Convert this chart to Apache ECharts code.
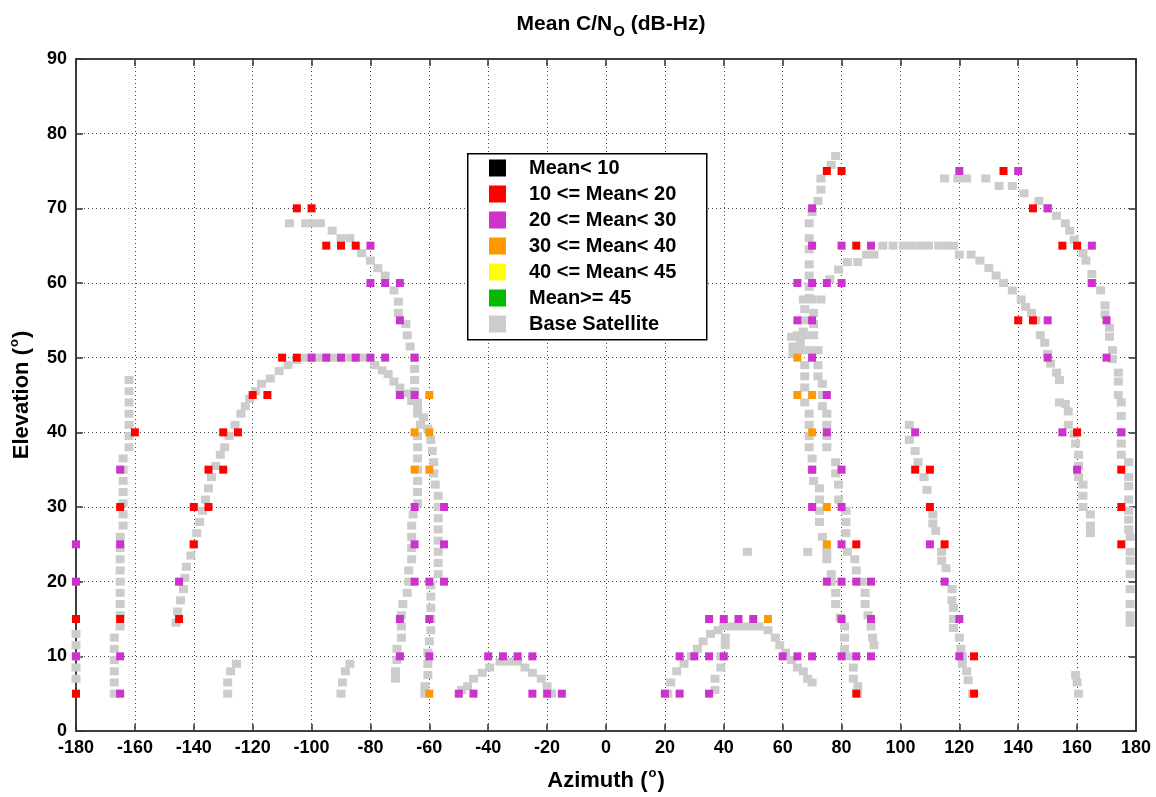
<!DOCTYPE html>
<html>
<head>
<meta charset="utf-8">
<script src="https://cdn.jsdelivr.net/npm/echarts@6/dist/echarts.min.js"></script>
<style>html,body{margin:0;padding:0;background:#fff;}#c{width:1156px;height:797px;}</style>
</head>
<body>
<div id="c"></div>
<script>
// ---- Data (azimuth deg, elevation deg) ----
const xTicks = [-180,-160,-140,-120,-100,-80,-60,-40,-20,0,20,40,60,80,100,120,140,160,180];
const yTicks = [0,10,20,30,40,50,60,70,80,90];
const legendNames = ['Mean< 10','10 <= Mean< 20','20 <= Mean< 30','30 <= Mean< 40','40 <= Mean< 45','Mean>= 45','Base Satellite'];

const meanBelow10 = [];
const mean10to20 = [
 [-180,5],[-180,15],[-165,15],[-165,30],[-160,40],[-145,15],[-140,25],[-140,30],[-135,30],[-135,35],
 [-130,35],[-130,40],[-125,40],[-120,45],[-115,45],[-110,50],[-105,50],[-105,70],[-100,70],[-95,65],
 [-90,65],[-85,65],[75,75],[80,75],[85,65],[85,25],[85,5],[105,35],[110,35],[110,30],[115,25],
 [125,10],[125,5],[135,75],[145,70],[155,65],[160,65],[140,55],[145,55],[160,40],[175,35],[175,30],[175,25]
];
const mean20to30 = [
 [-180,25],[-180,20],[-180,10],[-165,35],[-165,25],[-165,10],[-165,5],[-145,20],
 [-80,65],[-80,60],[-75,60],[-70,60],[-70,55],[-100,50],[-95,50],[-90,50],[-85,50],[-80,50],[-75,50],
 [-65,50],[-70,45],[-65,45],[-65,30],[-55,30],[-65,25],[-55,25],[-65,20],[-60,20],[-55,20],[-70,15],
 [-60,15],[-70,10],[-60,10],[-50,5],[-45,5],
 [-40,10],[-35,10],[-30,10],[-25,10],[-25,5],[-20,5],[-15,5],
 [35,15],[40,15],[45,15],[50,15],[25,10],[30,10],[35,10],[40,10],[60,10],[65,10],[20,5],[25,5],[35,5],
 [70,70],[70,65],[80,65],[90,65],[65,60],[70,60],[75,60],[80,60],[65,55],[70,55],[70,50],[75,45],
 [75,40],[70,35],[80,35],[70,30],[80,30],[80,25],[75,20],[80,20],[85,20],[90,20],[80,15],[90,15],
 [70,10],[80,10],[85,10],[90,10],
 [105,40],[110,25],[115,20],[120,15],[120,10],
 [120,75],[140,75],[150,70],[165,65],[165,60],[150,55],[170,55],[150,50],[170,50],[155,40],[175,40],[160,35]
];
const mean30to40 = [
 [-60,45],[-65,40],[-60,40],[-65,35],[-60,35],[-60,5],[55,15],[65,50],[65,45],[70,45],[70,40],[75,30],[75,25]
];
const mean40to45 = [];
const meanAbove45 = [];

// Base satellite tracks (gray)
const trackA = [[-180,7],[-180,8.5],[-180,10],[-180,11.5],[-180,13]];
const trackB = [[-167,5],[-167,6.5],[-167,8],[-167,9.5],[-167,11],[-167,12.5],[-165,14],[-165,15.5],[-165,17],
 [-165,18.5],[-165,20],[-165,21.5],[-165,23],[-165,24.5],[-165,26],[-164,27.5],[-164,29],[-164,30.5],
 [-164,32],[-164,33.5],[-164,35],[-164,36.5],[-162,38],[-162,39.5],[-162,41],[-162,42.5],[-162,44],[-162,45.5],[-162,47]];
const trackC = [[-146,14.5],[-145.5,16],[-144.5,17.5],[-143.5,19],[-143,20.5],[-142.5,22],[-141,23.5],[-140,25],
 [-139,26.5],[-138,28],[-137,29.5],[-136,31],[-135,32.5],[-134,34],[-132.5,35.5],[-131,37],[-129.5,38],
 [-128,39.5],[-126,41],[-124,42.5],[-122.5,43.5],[-121,44.5],[-119,45.5],[-117,46.5],[-114,47.2],[-111,48.2],
 [-108,49],[-105,49.7],[-102,50],[-99,50],[-96,50],[-93,50],[-90,50],[-87,50],[-84,50],[-81,50],[-78.5,49],
 [-76,48.3],[-74,47.8],[-72,46.8],[-70,46],[-68,45.2],[-66,44.2],[-64,43],[-62,42],[-60.5,40.5],[-59.5,39],
 [-59,37.5],[-58.5,36],[-58.5,34.5],[-58,33],[-57,31.5],[-57,30],[-57,28.5],[-57,27],[-57,25.5],[-57,24],
 [-57,22.5],[-57,21],[-59.5,19.5],[-59.5,18],[-59.5,16.5],[-59.5,15],[-59.5,13.5],[-60,12],[-60.5,10.5],
 [-60.5,9],[-60.5,7.5],[-61.5,6],[-61.5,5]];
const trackD = [[-107.5,68],[-102,68],[-99.5,68],[-97,68],[-93,67],[-90,66],[-87,66],[-83,64],[-80,63],[-77.5,62],
 [-75,61],[-72,59],[-70.5,57.5],[-70.5,56],[-68,54.5],[-67.5,53],[-66.5,51.5],[-65,50],[-65,48.5],[-65,47],
 [-65,45.5],[-64,44],[-64,42.5],[-63,41],[-64,39.5],[-64,38],[-64,36.5],[-64,35],[-64,33.5],[-64,32],[-64,30.5],
 [-65.5,29],[-66,27.5],[-66,26],[-66,24.5],[-66,23],[-67,21.5],[-67,20],[-67.5,18.5],[-69,17],[-69.5,15.5],
 [-69.5,14],[-69.5,12.5],[-71,11],[-71,9.5],[-71.5,8],[-71.5,7]];
const trackE = [[-49,5.5],[-47,6],[-45,7],[-42,7.8],[-39.5,8.5],[-36,9.3],[-33,9.3],[-30,9.3],[-27.5,8.5],
 [-25,7.8],[-22,7],[-20,6],[-18.5,5]];
const trackP = [[-128.5,5],[-128.5,6.5],[-127.5,8],[-125.5,9]];
const trackQ = [[-90,5],[-89.5,6.5],[-88.5,8],[-87,9]];
const trackF = [[21,5],[22,6.5],[24,8],[26.5,9],[29,10],[31,11],[33,12],[35.5,13],[38,13.5],[40,14],[43,14],
 [46,14],[49,14],[52,14],[55,13.5],[57.5,12.5],[59,11.5],[61,10.5],[63,9.5],[65,8.5],[67,8],[68.5,7],[70,6.5]];
const trackG = [[37,5.5],[37,7],[39,8.5],[39,10],[40.5,11.5],[40.5,12.5]];
const loneGray = [[48,24],[68.5,24]];
const trackH = [[78,77],[76.5,75.8],[73,74],[73,72.5],[72,71],[70,69.5],[69,68],[69,66],[69,64.5],[69,62.5],
 [69,61],[69,59.5],[69,58],[67.5,56.5],[67.5,55],[67,53.5],[66,52],[63.5,51.5],[63.5,50.5],[67.5,49],
 [67.5,47.5],[67.5,46],[67.5,44],[69,42.5],[69,41],[69,39.5],[69,38],[70,36.5],[70,35],[70.5,33.5],
 [72.5,32.5],[72.5,31],[72.5,29.5],[72.5,28],[73.5,26],[75,24],[75,23],[76.5,21],[76.5,20],[78,18.5],
 [78,17],[79.5,15.2],[81,14],[81,12.5],[81,11],[82,10],[84,8.5],[84,7],[85.5,6],[85.5,5]];
const trackJ = [[63,52.8],[65,53],[68,53],[70.5,53],[70.5,54.5],[70.5,56],[67,57.8],[70,57.8],[73,57.8],
 [66,51],[69,51],[72,51],[72,49],[72,47.5],[73.5,46.5],[73.5,45],[73.5,43.5],[75,42.5],[75,41],[75,39.5],
 [75,38],[78,36],[78,34.5],[79,33],[79,31],[81.5,29.5],[81.5,28],[81.5,26.5],[82,24],[84.5,23],[85,21.5],
 [87,20],[88,18.5],[88,17],[89,15.5],[90,14],[90.5,12.5],[91,11.5]];
const trackI = [[76,60.5],[79,61.8],[82,62.8],[85.5,62.8],[88.5,63.8],[91,63.8],[94,65],[97.5,65],[101,65],
 [104,65],[107,65],[109.5,65],[113,65],[116,65],[118,65],[120,63.8],[124,63.8],[127,63],[130,62],[132.5,61],
 [135,60],[138,59],[141,57.8],[142.5,56.8],[144.5,56],[146,55],[147.5,53],[149,52],[150,50.5],[151,49.2],
 [153,48],[154,47],[154,44],[156,43.8],[157,42.8],[157,41],[159,39.8],[159.5,38.5],[160.5,37],[160.5,35.5],
 [160.5,34],[162,33],[162,31.5],[162,30],[164.5,29],[164.5,27.5],[164.5,26.5]];
const trackM = [[103,41],[103,39],[105,37.5],[106,36],[108,34],[109,32.3],[111,29],[111,27.8],[112,26.8],
 [114,24],[114,22.8],[115.5,21.8],[117.5,19],[117.5,17.5],[118,16.5],[118,15],[118,13.8],[120,12.5],
 [120.5,11],[121,10],[121,9],[122.5,8],[123,6.8],[124.5,5]];
const trackL = [[115,74],[119.5,74],[122.5,74],[129,74],[133.5,73],[138,73],[142,72],[147,71],[150,70],
 [153,69],[156,68],[157.5,67],[159,65.8],[162,64],[163,63],[165,61.2],[165,60],[168,59],[169.5,57],
 [169.5,55.8],[171,54],[171,52.8],[172,51],[172,49.8],[174,48],[174,46.8],[174,45],[175,44],[175,42.2],
 [175,40],[175,38.5],[175,37],[177.5,36],[177.5,34],[177.5,32.8],[177.5,31],[177.5,29.5],[177.5,28.3],
 [177.5,27],[178,26],[178,24],[178,22.8],[178,21],[178,19],[178,17],[178,15.5],[178,14.5]];
const trackN = [[160.5,5],[160,6.5],[159.5,7.5]];

const baseSatellite = [].concat(trackA, trackB, trackC, trackD, trackE, trackP, trackQ, trackF, trackG,
  loneGray, trackH, trackJ, trackI, trackM, trackL, trackN);

const colors = ['#000000','#ff0000','#cc33cc','#ff9900','#ffff00','#00bb00','#cccccc'];

const chart = echarts.init(document.getElementById('c'), null, {renderer:'canvas'});
const FONT = 'Liberation Sans, Arial, sans-serif';

function colorSeries(name, data, color) {
  return { name, type:'scatter', data, symbol:'rect', symbolSize:8,
    itemStyle:{color, opacity:1}, z:3, animation:false, clip:false };
}

const axisLineStyle = {show:true,onZero:false,lineStyle:{color:'#333',width:1.5}};
const tickStyle = {show:true,inside:true,length:7,lineStyle:{color:'#333',width:1.5}};

const option = {
  backgroundColor:'#ffffff',
  animation:false,
  title:{
    text:'{m|Mean C/N}{s|O}{m| (dB-Hz)}',
    left:606, top:4, textAlign:'center',
    textStyle:{ rich:{
      m:{fontFamily:FONT,fontWeight:'bold',fontSize:21,color:'#000'},
      s:{fontFamily:FONT,fontWeight:'bold',fontSize:15,color:'#000',padding:[15,0,0,1]}
    }}
  },
  grid:{left:75,right:20,top:59,bottom:65,show:true,borderColor:'#333',borderWidth:1.5,backgroundColor:'#fff'},
  xAxis:[{
    type:'value', min:-180, max:180, interval:20,
    name:'{n|Azimuth (}{s|o}{n|)}', nameLocation:'middle', nameGap:36,
    nameTextStyle:{rich:{
      n:{fontFamily:FONT,fontWeight:'bold',fontSize:22,color:'#000'},
      s:{fontFamily:FONT,fontWeight:'bold',fontSize:13,color:'#000',padding:[0,1,15,1]}
    }},
    axisLine:axisLineStyle, axisTick:tickStyle,
    axisLabel:{fontFamily:FONT,fontWeight:'bold',fontSize:18,color:'#000',margin:8},
    splitLine:{show:true,lineStyle:{color:'#444',type:[1,3],width:1}}
  },{
    type:'value', min:-180, max:180, interval:20, position:'top',
    axisLine:axisLineStyle, axisTick:tickStyle,
    axisLabel:{show:false}, splitLine:{show:false}
  }],
  yAxis:[{
    type:'value', min:0, max:90, interval:10,
    name:'{n|Elevation (}{s|o}{n|)}', nameLocation:'middle', nameGap:40,
    nameTextStyle:{rich:{
      n:{fontFamily:FONT,fontWeight:'bold',fontSize:22,color:'#000'},
      s:{fontFamily:FONT,fontWeight:'bold',fontSize:13,color:'#000',padding:[0,1,15,1]}
    }},
    axisLine:axisLineStyle, axisTick:tickStyle,
    axisLabel:{fontFamily:FONT,fontWeight:'bold',fontSize:18,color:'#000',margin:9},
    splitLine:{show:true,lineStyle:{color:'#444',type:[1,3],width:1}}
  },{
    type:'value', min:0, max:90, interval:10, position:'right',
    axisLine:axisLineStyle, axisTick:tickStyle,
    axisLabel:{show:false}, splitLine:{show:false}
  }],
  legend:{
    orient:'vertical', left:489, top:158, padding:0,
    itemWidth:17, itemHeight:17, itemGap:6, icon:'rect', selectedMode:false, z:6,
    data:legendNames,
    formatter: n => '{p| }{t|' + n + '}',
    textStyle:{rich:{
      p:{width:18},
      t:{fontFamily:FONT,fontWeight:'bold',fontSize:20,color:'#000'}
    }}
  },
  graphic:[{
    type:'rect', left:467, top:153, z:5,
    shape:{width:239, height:186},
    style:{fill:'#fff', stroke:'#000', lineWidth:1.5}
  }],
  series:[
    { name:'Base Satellite', type:'scatter', data:baseSatellite, symbol:'rect', symbolSize:[9,8],
      itemStyle:{color:colors[6],opacity:1}, z:2, animation:false, clip:false },
    colorSeries(legendNames[0], meanBelow10, colors[0]),
    colorSeries(legendNames[1], mean10to20, colors[1]),
    colorSeries(legendNames[2], mean20to30, colors[2]),
    colorSeries(legendNames[3], mean30to40, colors[3]),
    colorSeries(legendNames[4], mean40to45, colors[4]),
    colorSeries(legendNames[5], meanAbove45, colors[5])
  ]
};
chart.setOption(option);
</script>
</body>
</html>
